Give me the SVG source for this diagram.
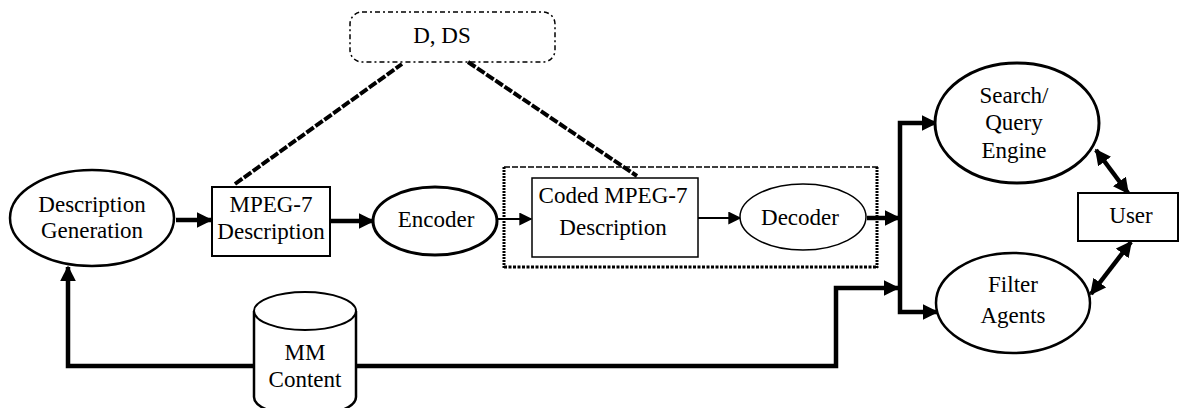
<svg xmlns="http://www.w3.org/2000/svg" width="1180" height="408" viewBox="0 0 1180 408">
  <style>
    .lbl { font-size: 23px; fill: #000; text-anchor: middle; }
    .shape { fill: #fff; stroke: #000; }
    .conn { fill: none; stroke: #000; stroke-linejoin: miter; }
    .thick { stroke-width: 4.5; }
    .thin { stroke-width: 2; }
    .link { fill: none; stroke: #000; stroke-width: 4; stroke-dasharray: 9 2; }
  </style>
  <defs>
    <marker id="ah" viewBox="0 0 10 10" refX="9" refY="5" markerWidth="16" markerHeight="16" markerUnits="userSpaceOnUse" orient="auto-start-reverse">
      <path d="M0,0 L10,5 L0,10 Z" fill="#000"/>
    </marker>
    <marker id="ahs" viewBox="0 0 10 10" refX="9" refY="5" markerWidth="13" markerHeight="13" markerUnits="userSpaceOnUse" orient="auto">
      <path d="M0,0 L10,5 L0,10 Z" fill="#000"/>
    </marker>
  </defs>

  <rect width="1180" height="408" fill="#fff"/>

  <!-- grouping box around the coded description and decoder -->
  <g id="decoder-frame">
    <line x1="504" y1="167" x2="878" y2="167" stroke="#000" stroke-width="1.5" stroke-dasharray="6 2"/>
    <line x1="504" y1="167" x2="504" y2="268" stroke="#000" stroke-width="3" stroke-dasharray="2 1"/>
    <line x1="504" y1="267" x2="878" y2="267" stroke="#000" stroke-width="3" stroke-dasharray="3 1.5"/>
    <line x1="877" y1="167" x2="877" y2="268" stroke="#000" stroke-width="3" stroke-dasharray="2 1"/>
  </g>

  <!-- connectors -->
  <g id="connectors">
    <line class="link" x1="235" y1="184" x2="402" y2="64"/>
    <line class="link" x1="468" y1="62" x2="637" y2="176"/>

    <line class="conn thick" x1="176" y1="220" x2="211" y2="220" marker-end="url(#ah)"/>
    <line class="conn thick" x1="330" y1="221" x2="373" y2="221" marker-end="url(#ah)"/>
    <line class="conn thin" x1="497" y1="219" x2="531" y2="219" marker-end="url(#ahs)"/>
    <line class="conn thin" x1="698" y1="218" x2="740" y2="218" marker-end="url(#ahs)"/>
    <line class="conn thick" x1="867" y1="218" x2="899" y2="218" marker-end="url(#ah)"/>

    <polyline class="conn thick" points="936,123 900,123 900,312 937,312" marker-start="url(#ah)" marker-end="url(#ah)"/>
    <polyline class="conn thick" points="356,366 836,366 836,288 898,288" marker-end="url(#ah)"/>
    <polyline class="conn thick" points="253,366 68,366 68,267" marker-end="url(#ah)"/>

    <line class="conn thick" x1="1096" y1="150" x2="1128" y2="193" marker-start="url(#ah)" marker-end="url(#ah)"/>
    <line class="conn thick" x1="1091" y1="294" x2="1131" y2="242" marker-start="url(#ah)" marker-end="url(#ah)"/>
  </g>

  <g font-family="'Liberation Serif', Tinos, 'Noto Serif', 'DejaVu Serif', FreeSerif, Times, serif">
    <g id="d-ds">
      <rect x="350" y="12" width="205" height="50" rx="12" fill="none" stroke="#000" stroke-width="1.5" stroke-dasharray="5 3 2 3"/>
      <text class="lbl" x="442" y="43">D, DS</text>
    </g>

    <g id="description-generation">
      <ellipse class="shape" cx="92" cy="218" rx="82" ry="48" stroke-width="2.5"/>
      <text class="lbl" x="92" y="212">Description</text>
      <text class="lbl" x="92" y="238">Generation</text>
    </g>

    <g id="mpeg7-description">
      <rect class="shape" x="212" y="187" width="118" height="69" stroke-width="2"/>
      <text class="lbl" x="271" y="212">MPEG-7</text>
      <text class="lbl" x="271" y="239">Description</text>
    </g>

    <g id="encoder">
      <ellipse class="shape" cx="435" cy="221" rx="62" ry="34" stroke-width="3"/>
      <text class="lbl" x="436" y="227">Encoder</text>
    </g>

    <g id="coded-description">
      <rect class="shape" x="532" y="178" width="166" height="79" stroke-width="1.5"/>
      <text class="lbl" x="613" y="203">Coded MPEG-7</text>
      <text class="lbl" x="613" y="235">Description</text>
    </g>

    <g id="decoder">
      <ellipse class="shape" cx="803" cy="217" rx="63" ry="33" stroke-width="1.5"/>
      <text class="lbl" x="800" y="225">Decoder</text>
    </g>

    <g id="search-query-engine">
      <ellipse class="shape" cx="1017" cy="123" rx="82" ry="60" stroke-width="3"/>
      <text class="lbl" x="1014" y="103">Search/</text>
      <text class="lbl" x="1014" y="130">Query</text>
      <text class="lbl" x="1014" y="158">Engine</text>
    </g>

    <g id="filter-agents">
      <ellipse class="shape" cx="1013" cy="303" rx="77" ry="50" stroke-width="2.5"/>
      <text class="lbl" x="1013" y="292">Filter</text>
      <text class="lbl" x="1013" y="323">Agents</text>
    </g>

    <g id="user">
      <rect class="shape" x="1078" y="193" width="100" height="48" stroke-width="2"/>
      <text class="lbl" x="1131" y="223">User</text>
    </g>

    <g id="mm-content">
      <path class="shape" d="M254,311 L254,397 A51,19 0 0 0 356,397 L356,311" stroke-width="2.5"/>
      <ellipse class="shape" cx="305" cy="311" rx="51" ry="19" stroke-width="2"/>
      <text class="lbl" x="305" y="360">MM</text>
      <text class="lbl" x="305" y="387">Content</text>
    </g>
  </g>
</svg>
